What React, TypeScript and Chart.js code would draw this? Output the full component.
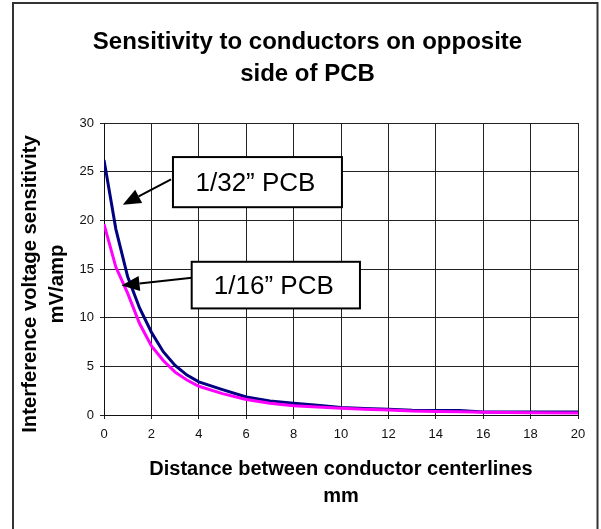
import React, { useEffect, useRef } from "react";
import { Chart, registerables } from "chart.js";

Chart.register(...registerables);

const FONT = "'Liberation Sans', Arial, Helvetica, sans-serif";

// Distance between conductor centerlines (mm)
const distanceMm = [0, 0.5, 1, 1.5, 2, 2.5, 3, 3.5, 4, 5, 6, 7, 8, 9, 10, 11, 12, 13, 14, 15, 16, 18, 20];
// Interference voltage sensitivity (mV/amp)
const pcb32Sensitivity = [26.2, 19.1, 14.2, 11.0, 8.5, 6.5, 5.1, 4.1, 3.4, 2.6, 1.85, 1.45, 1.2, 1.0, 0.78, 0.68, 0.6, 0.5, 0.47, 0.45, 0.32, 0.3, 0.3];
const pcb16Sensitivity = [19.6, 15.2, 12.5, 9.4, 7.1, 5.6, 4.4, 3.6, 2.95, 2.2, 1.6, 1.2, 0.95, 0.82, 0.7, 0.6, 0.52, 0.4, 0.37, 0.33, 0.27, 0.23, 0.2];

const seriesNames = ["1/32\u201D PCB", "1/16\u201D PCB"];
const titleLines = ["Sensitivity to conductors on opposite", "side of PCB"];
const xTitleLines = ["Distance between conductor centerlines", "mm"];
const yTitleLines = ["Interference voltage sensitivity", "mV/amp"];

// Callout boxes and arrows, in data units (x: mm, y: mV/amp)
const calloutBoxX = [[2.91, 10.04], [3.7, 10.8]];
const calloutBoxY = [[26.5, 21.35], [15.74, 10.95]];
const arrowFrom = [[2.83, 24.2], [3.71, 14.1]];
const arrowTo = [[0.79, 21.6], [0.74, 13.3]];

const framePlugin = {
  id: "frame",
  beforeDraw(chart: any) {
    const { ctx } = chart;
    ctx.save();
    ctx.fillStyle = "#fff";
    ctx.fillRect(0, 0, chart.width, chart.height);
    ctx.strokeStyle = "#333";
    ctx.lineWidth = 2;
    ctx.strokeRect(13, 3, 584.5, 560);
    ctx.restore();
  },
};

const yTitlePlugin = {
  id: "ytitle",
  afterDraw(chart: any) {
    const { ctx, chartArea } = chart;
    ctx.save();
    ctx.fillStyle = "#000";
    ctx.font = `bold 20.3px ${FONT}`;
    ctx.textAlign = "center";
    ctx.textBaseline = "middle";
    ctx.translate(chartArea.left - 73.5, (chartArea.top + chartArea.bottom) / 2 + 15);
    ctx.rotate(-Math.PI / 2);
    yTitleLines.forEach((line, i) => ctx.fillText(line, 0, i * 27));
    ctx.restore();
  },
};

const calloutPlugin = {
  id: "callouts",
  afterDatasetsDraw(chart: any) {
    const { ctx } = chart;
    const xs = chart.scales.x;
    const ys = chart.scales.y;
    ctx.save();
    seriesNames.forEach((label, i) => {
      const sx = xs.getPixelForValue(arrowFrom[i][0]);
      const sy = ys.getPixelForValue(arrowFrom[i][1]);
      const tx = xs.getPixelForValue(arrowTo[i][0]);
      const ty = ys.getPixelForValue(arrowTo[i][1]);
      const ang = Math.atan2(ty - sy, tx - sx);
      const headLen = 18;
      const headW = 7.5;
      const bx = tx - headLen * Math.cos(ang);
      const by = ty - headLen * Math.sin(ang);
      ctx.strokeStyle = "#000";
      ctx.fillStyle = "#000";
      ctx.lineWidth = 2;
      ctx.beginPath();
      ctx.moveTo(sx, sy);
      ctx.lineTo(bx, by);
      ctx.stroke();
      ctx.beginPath();
      ctx.moveTo(tx, ty);
      ctx.lineTo(bx + headW * Math.sin(ang), by - headW * Math.cos(ang));
      ctx.lineTo(bx - headW * Math.sin(ang), by + headW * Math.cos(ang));
      ctx.closePath();
      ctx.fill();

      const l = xs.getPixelForValue(calloutBoxX[i][0]);
      const r = xs.getPixelForValue(calloutBoxX[i][1]);
      const t = ys.getPixelForValue(calloutBoxY[i][0]);
      const b = ys.getPixelForValue(calloutBoxY[i][1]);
      ctx.fillStyle = "#fff";
      ctx.fillRect(l, t, r - l, b - t);
      ctx.lineWidth = 2;
      ctx.strokeStyle = "#000";
      ctx.strokeRect(l, t, r - l, b - t);
      ctx.fillStyle = "#000";
      ctx.font = `26px ${FONT}`;
      ctx.textAlign = "center";
      ctx.textBaseline = "middle";
      ctx.fillText(label, (l + r) / 2 - 2, (t + b) / 2 + 1.5);
    });
    ctx.restore();
  },
};

export default function App() {
  const canvasRef = useRef<HTMLCanvasElement | null>(null);

  useEffect(() => {
    if (!canvasRef.current) return;
    Chart.defaults.font.family = FONT;
    const toPoints = (vals: number[]) => distanceMm.map((x, i) => ({ x, y: vals[i] }));
    const chart = new Chart(canvasRef.current, {
      type: "line",
      data: {
        datasets: [
          {
            label: seriesNames[0],
            data: toPoints(pcb32Sensitivity),
            borderColor: "#000080",
            backgroundColor: "#000080",
            borderWidth: 3,
            pointRadius: 0,
            tension: 0,
            order: 2,
          },
          {
            label: seriesNames[1],
            data: toPoints(pcb16Sensitivity),
            borderColor: "#FF00FF",
            backgroundColor: "#FF00FF",
            borderWidth: 3,
            pointRadius: 0,
            tension: 0,
            order: 1,
          },
        ],
      },
      options: {
        responsive: false,
        animation: false,
        layout: { padding: { left: 37, right: 23, top: 0, bottom: 0 } },
        plugins: {
          legend: { display: false },
          tooltip: { enabled: false },
          title: {
            display: true,
            text: titleLines,
            color: "#000",
            font: { family: FONT, size: 24, weight: "bold", lineHeight: 32 / 24 },
            padding: { top: 26, bottom: 33 },
          },
        },
        scales: {
          x: {
            type: "linear",
            min: 0,
            max: 20,
            afterFit: (scale: any) => {
              scale.height = 114;
            },
            ticks: {
              stepSize: 2,
              color: "#111",
              padding: 8,
              font: { family: FONT, size: 13 },
            },
            grid: { color: "#222", lineWidth: 1, tickLength: 4, drawTicks: true },
            border: { display: true, color: "#111", width: 1 },
            title: {
              display: true,
              text: xTitleLines,
              color: "#000",
              font: { family: FONT, size: 20, weight: "bold", lineHeight: 1.35 },
              padding: { top: 0, bottom: 19 },
            },
          },
          y: {
            type: "linear",
            min: 0,
            max: 30,
            afterFit: (scale: any) => {
              scale.width = 67;
            },
            ticks: {
              stepSize: 5,
              color: "#111",
              padding: 6,
              font: { family: FONT, size: 13 },
            },
            grid: { color: "#222", lineWidth: 1, tickLength: 4, drawTicks: true },
            border: { display: true, color: "#111", width: 1 },
          },
        },
      },
      plugins: [framePlugin, calloutPlugin, yTitlePlugin],
    } as any);
    return () => chart.destroy();
  }, []);

  return (
    <div style={{ position: "absolute", left: 0, top: 0, width: 601, height: 529 }}>
      <canvas ref={canvasRef} width={601} height={529} style={{ display: "block" }} />
    </div>
  );
}
